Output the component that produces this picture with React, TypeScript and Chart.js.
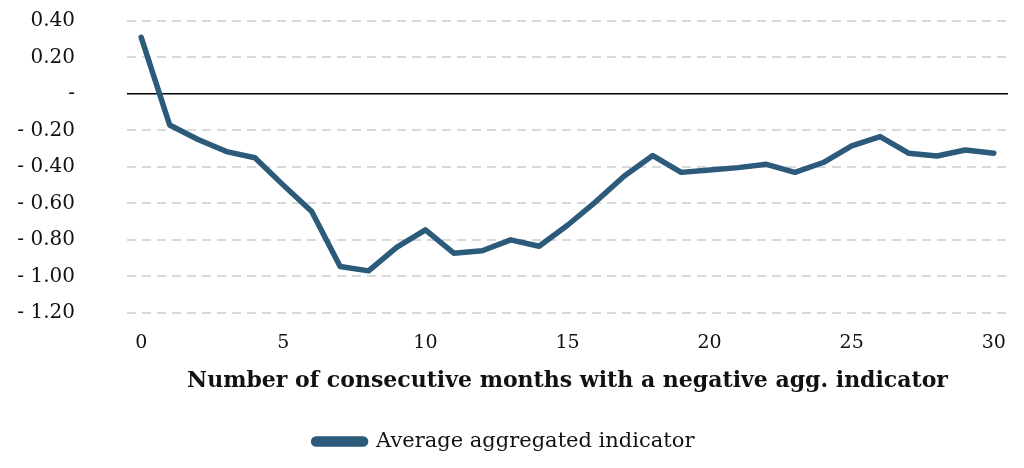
import React, { useEffect, useRef } from "react";
import { Chart, registerables } from "chart.js";

Chart.register(...registerables);

const months: string[] = Array.from({ length: 31 }, (_, i) => String(i));
const avgIndicator: number[] = [
  0.31, -0.17, -0.25, -0.316, -0.35, -0.5, -0.645, -0.946, -0.97, -0.84,
  -0.745, -0.873, -0.86, -0.8, -0.835, -0.72, -0.59, -0.45, -0.338, -0.43,
  -0.417, -0.404, -0.386, -0.43, -0.376, -0.285, -0.234, -0.325, -0.34, -0.307,
  -0.325,
];
const seriesName = "Average aggregated indicator";
const xTitle = "Number of consecutive months with a negative agg. indicator";

const FONT = "'DejaVu Serif', 'Liberation Serif', serif";
const LINE_COLOR = "#2b5a7b";

function fmt(v: number): string {
  if (Math.abs(v) < 1e-9) return "-";
  if (v < 0) return "- " + Math.abs(v).toFixed(2);
  return v.toFixed(2);
}

const isZero = (ctx: any) => ctx.tick && Math.abs(ctx.tick.value) < 1e-9;

export default function App() {
  const ref = useRef<HTMLCanvasElement | null>(null);
  useEffect(() => {
    if (!ref.current) return;
    const chart = new Chart(ref.current, {
      type: "line",
      data: {
        labels: months,
        datasets: [
          {
            label: seriesName,
            data: avgIndicator,
            borderColor: LINE_COLOR,
            backgroundColor: LINE_COLOR,
            borderWidth: 5.5,
            pointRadius: 0,
            borderJoinStyle: "round",
            borderCapStyle: "round",
            tension: 0,
          },
        ],
      },
      options: {
        animation: false,
        responsive: true,
        maintainAspectRatio: false,
        layout: { padding: { top: 21, right: 16, left: 0, bottom: 6 } },
        plugins: {
          legend: {
            position: "bottom",
            labels: {
              font: { family: FONT, size: 21 },
              color: "#111",
              boxWidth: 52,
              boxHeight: 5,
              useBorderRadius: true,
              borderRadius: 2.5,
              padding: 10,
            },
          },
          tooltip: { enabled: false },
        },
        scales: {
          x: {
            type: "category",
            offset: true,
            grid: {
              display: true,
              drawOnChartArea: false,
              drawTicks: true,
              tickLength: 16,
              tickColor: "rgba(0,0,0,0)",
              color: "rgba(0,0,0,0)",
            },
            border: { display: false },
            ticks: {
              autoSkip: false,
              maxRotation: 0,
              padding: 3,
              color: "#111",
              font: { family: FONT, size: 19 },
              callback: (_v: any, i: number) => (i % 5 === 0 ? months[i] : ""),
            },
            title: {
              display: true,
              text: xTitle,
              color: "#111",
              font: { family: FONT, size: 22, weight: "bold" },
              padding: { top: 10, bottom: 27 },
            },
          },
          y: {
            min: -1.2,
            max: 0.4,
            afterFit: (scale: any) => {
              scale.width = 127;
            },
            ticks: {
              stepSize: 0.2,
              padding: 2,
              color: "#111",
              font: { family: FONT, size: 20 },
              callback: (v: any) => fmt(Number(v)),
            },
            grid: {
              drawTicks: true,
              tickLength: 50,
              tickColor: "rgba(0,0,0,0)",
              lineWidth: (ctx: any) => (isZero(ctx) ? 1.6 : 2),
              color: (ctx: any) => (isZero(ctx) ? "#000000" : "#d9d9d9"),
            },
            border: {
              display: false,
              dash: (ctx: any) => (isZero(ctx) ? [] : [9, 6]),
            },
          },
        },
      },
    });
    return () => chart.destroy();
  }, []);
  return (
    <div style={{ position: "fixed", left: 0, top: 0, width: 1024, height: 468, background: "#fff" }}>
      <canvas ref={ref} />
    </div>
  );
}
